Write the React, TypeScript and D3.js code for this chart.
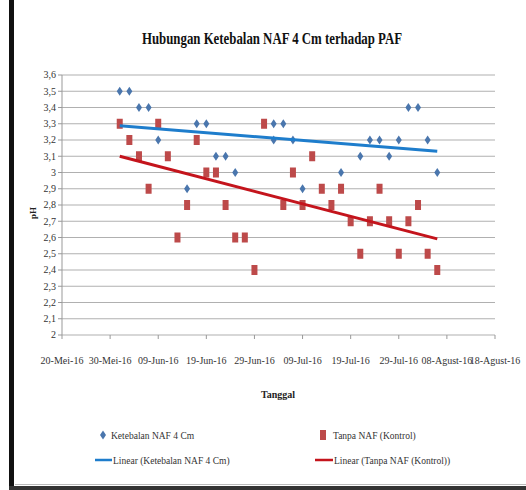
import React from "react";
import * as d3 from "d3";

const TITLE = "Hubungan Ketebalan NAF 4 Cm terhadap PAF";
const X_TITLE = "Tanggal";
const Y_TITLE = "pH";
const SERIES_NAMES = ["Ketebalan NAF 4 Cm", "Tanpa NAF (Kontrol)"];
const TREND_NAMES = ["Linear (Ketebalan NAF 4 Cm)", "Linear (Tanpa NAF (Kontrol))"];

const xTickDates = ["2016-05-20", "2016-05-30", "2016-06-09", "2016-06-19", "2016-06-29", "2016-07-09", "2016-07-19", "2016-07-29", "2016-08-08", "2016-08-18"];
const xTickLabels = ["20-Mei-16", "30-Mei-16", "09-Jun-16", "19-Jun-16", "29-Jun-16", "09-Jul-16", "19-Jul-16", "29-Jul-16", "08-Agust-16", "18-Agust-16"];
const yTickValues = [2, 2.1, 2.2, 2.3, 2.4, 2.5, 2.6, 2.7, 2.8, 2.9, 3, 3.1, 3.2, 3.3, 3.4, 3.5, 3.6];
const yTickLabels = ["2", "2,1", "2,2", "2,3", "2,4", "2,5", "2,6", "2,7", "2,8", "2,9", "3", "3,1", "3,2", "3,3", "3,4", "3,5", "3,6"];

const blueDates = ["2016-06-01", "2016-06-03", "2016-06-05", "2016-06-07", "2016-06-09", "2016-06-15", "2016-06-17", "2016-06-19", "2016-06-21", "2016-06-23", "2016-06-25", "2016-07-03", "2016-07-03", "2016-07-05", "2016-07-07", "2016-07-09", "2016-07-17", "2016-07-21", "2016-07-23", "2016-07-25", "2016-07-27", "2016-07-29", "2016-07-31", "2016-08-02", "2016-08-04", "2016-08-06"];
const blueValues = [3.5, 3.5, 3.4, 3.4, 3.2, 2.9, 3.3, 3.3, 3.1, 3.1, 3.0, 3.3, 3.2, 3.3, 3.2, 2.9, 3.0, 3.1, 3.2, 3.2, 3.1, 3.2, 3.4, 3.4, 3.2, 3.0];

const redDates = ["2016-06-01", "2016-06-03", "2016-06-05", "2016-06-07", "2016-06-09", "2016-06-11", "2016-06-13", "2016-06-15", "2016-06-17", "2016-06-19", "2016-06-21", "2016-06-23", "2016-06-25", "2016-06-27", "2016-06-29", "2016-07-01", "2016-07-05", "2016-07-07", "2016-07-09", "2016-07-11", "2016-07-13", "2016-07-15", "2016-07-17", "2016-07-19", "2016-07-21", "2016-07-23", "2016-07-25", "2016-07-27", "2016-07-29", "2016-07-31", "2016-08-02", "2016-08-04", "2016-08-06"];
const redValues = [3.3, 3.2, 3.1, 2.9, 3.3, 3.1, 2.6, 2.8, 3.2, 3.0, 3.0, 2.8, 2.6, 2.6, 2.4, 3.3, 2.8, 3.0, 2.8, 3.1, 2.9, 2.8, 2.9, 2.7, 2.5, 2.7, 2.9, 2.7, 2.5, 2.7, 2.8, 2.5, 2.4];

const parse = (s: string) => d3.utcParse("%Y-%m-%d")(s) as Date;

function regression(xs: number[], ys: number[]) {
  const mx = d3.mean(xs) as number;
  const my = d3.mean(ys) as number;
  let sxy = 0, sxx = 0;
  xs.forEach((x, i) => { sxy += (x - mx) * (ys[i] - my); sxx += (x - mx) * (x - mx); });
  const slope = sxy / sxx;
  return (x: number) => my + slope * (x - mx);
}

const FONT = "Liberation Serif, Times New Roman, DejaVu Serif, serif";
const BLUE = "#4a76ad";
const RED = "#bd4a4a";
const BLUE_LINE = "#1e7dcc";
const RED_LINE = "#c4141c";
const TXT = { fontFamily: FONT } as React.CSSProperties;

export default function App() {
  const x = d3.scaleUtc().domain([parse(xTickDates[0]), parse(xTickDates[xTickDates.length - 1])]).range([62, 495]);
  const y = d3.scaleLinear().domain([2, 3.6]).range([335, 75]);

  const bx = blueDates.map((d) => parse(d).getTime());
  const rx = redDates.map((d) => parse(d).getTime());
  const bFit = regression(bx, blueValues);
  const rFit = regression(rx, redValues);
  const line = d3.line<[number, number]>().x((d) => x(new Date(d[0]))).y((d) => y(d[1]));
  const bExt = d3.extent(bx) as [number, number];
  const rExt = d3.extent(rx) as [number, number];
  const bTrend = line(bExt.map((t) => [t, bFit(t)] as [number, number]));
  const rTrend = line(rExt.map((t) => [t, rFit(t)] as [number, number]));

  const diamond = (cx: number, cy: number) => `M${cx},${cy - 4.5}L${cx + 3},${cy}L${cx},${cy + 4.5}L${cx - 3},${cy}Z`;

  return (
    <div style={{ position: "fixed", left: 0, top: 0 }}>
      <svg width={526} height={490} style={{ display: "block", background: "#fff", fontFamily: FONT }}>
        <rect x={0} y={0} width={526} height={490} fill="#fff" />
        {/* frame */}
        <rect x={9} y={0} width={5} height={490} fill="#111" />
        <rect x={9} y={486} width={517} height={4} fill="#333" />
        <line x1={15} x2={526} y1={484.5} y2={484.5} stroke="#bbb" />

        <text style={TXT} x={142} y={44} fontSize={16} fontWeight="bold" textLength={260} lengthAdjust="spacingAndGlyphs" fill="#111">{TITLE}</text>

        {/* grid */}
        {yTickValues.map((v, i) => (
          <g key={i}>
            <line x1={62} x2={495} y1={y(v)} y2={y(v)} stroke="#b0b0b0" strokeWidth={1.2} />
            <line x1={58} x2={62} y1={y(v)} y2={y(v)} stroke="#999" />
            <text style={TXT} x={56} y={y(v)} dy="0.33em" textAnchor="end" fontSize={10} fill="#333">{yTickLabels[i]}</text>
          </g>
        ))}
        <line x1={62} x2={62} y1={75} y2={335} stroke="#999" />
        {xTickDates.map((d, i) => (
          <g key={i}>
            <line x1={x(parse(d))} x2={x(parse(d))} y1={335} y2={339} stroke="#999" />
            <text style={TXT} x={x(parse(d))} y={364} textAnchor="middle" fontSize={10} fill="#333">{xTickLabels[i]}</text>
          </g>
        ))}

        <text style={TXT} transform={`translate(36,213) rotate(-90)`} textAnchor="middle" fontSize={9} fontWeight="bold" fill="#222">{Y_TITLE}</text>
        <text style={TXT} x={278} y={398} textAnchor="middle" fontSize={10} fontWeight="bold" fill="#222">{X_TITLE}</text>

        {/* points */}
        {bx.map((t, i) => (
          <path key={"b" + i} d={diamond(x(new Date(t)), y(blueValues[i]))} fill={BLUE} />
        ))}
        {rx.map((t, i) => (
          <rect key={"r" + i} x={x(new Date(t)) - 3} y={y(redValues[i]) - 5} width={6} height={10} fill={RED} />
        ))}
        <path d={bTrend as string} stroke={BLUE_LINE} strokeWidth={3} fill="none" />
        <path d={rTrend as string} stroke={RED_LINE} strokeWidth={3} fill="none" />

        {/* legend */}
        <path d={diamond(103, 435)} fill={BLUE} />
        <text style={TXT} x={111} y={438.5} fontSize={9.5} fill="#333">{SERIES_NAMES[0]}</text>
        <rect x={320} y={430} width={6} height={10} fill={RED} />
        <text style={TXT} x={333} y={438.5} fontSize={9.5} fill="#333">{SERIES_NAMES[1]}</text>
        <line x1={95} x2={112} y1={460} y2={460} stroke={BLUE_LINE} strokeWidth={2.5} />
        <text style={TXT} x={113} y={463.5} fontSize={9.5} fill="#333">{TREND_NAMES[0]}</text>
        <line x1={315} x2={333} y1={460} y2={460} stroke={RED_LINE} strokeWidth={2.5} />
        <text style={TXT} x={334} y={463.5} fontSize={9.5} fill="#333">{TREND_NAMES[1]}</text>
      </svg>
    </div>
  );
}
